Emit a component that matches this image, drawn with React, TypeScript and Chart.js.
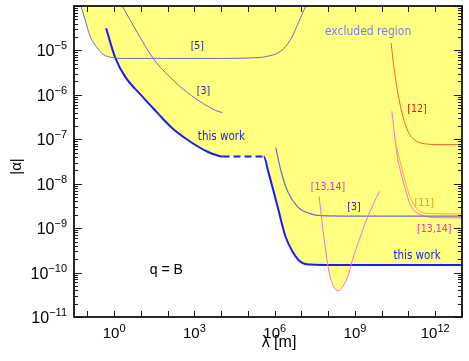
import React, { useEffect, useRef } from 'react';
import { Chart, registerables } from 'chart.js';

Chart.register(...registerables);

// ---- axis ranges (log10 exponents) ----
const X_MIN_EXP = -1.5;
const X_MAX_EXP = 13;
const Y_MIN_EXP = -11;
const Y_MAX_EXP = -4;
const xLabelExps = [0, 3, 6, 9, 12];
const yLabelExps = [-11, -10, -9, -8, -7, -6, -5];

// ---- curves: log10(λ [m]) and log10(|α|) ----
const ref5LogLambda = [-1.24, -1.09, -0.9, -0.65, -0.41, -0.08, 0.23, 2.0, 4.0, 5.1, 5.74, 6.22, 6.6, 6.86, 7.16];
const ref5LogAlpha = [-4.0, -4.3, -4.68, -4.93, -5.09, -5.16, -5.18, -5.18, -5.18, -5.17, -5.13, -5.02, -4.75, -4.41, -4.0];

const thisWorkLogLambda = [-0.3, 0.04, 0.41, 0.98, 1.61, 2.1, 2.74, 3.49, 3.9, 4.05, 5.59, 5.77, 6.11, 6.41, 6.67, 6.97, 7.35, 8.1, 13.0];
const thisWorkLogAlpha = [-4.5, -5.16, -5.59, -5.99, -6.4, -6.71, -7.01, -7.28, -7.37, -7.39, -7.39, -7.75, -8.52, -9.2, -9.53, -9.76, -9.82, -9.83, -9.83];
const thisWorkDashedSegment = 9; // segment 9 -> 10 is dashed

const ref3aLogLambda = [0.3, 0.86, 1.46, 2.1, 2.74, 3.34, 3.79, 4.05];
const ref3aLogAlpha = [-4.0, -4.59, -5.18, -5.61, -5.95, -6.2, -6.35, -6.4];

const ref3bLogLambda = [6.04, 6.22, 6.49, 6.86, 7.35, 7.72, 9.0, 13.0];
const ref3bLogAlpha = [-7.19, -7.68, -8.18, -8.52, -8.68, -8.72, -8.73, -8.73];

const ref1314aLogLambda = [7.66, 7.85, 8.04, 8.21, 8.36, 8.54, 8.73, 8.91, 9.16, 9.48, 9.91];
const ref1314aLogAlpha = [-8.29, -9.26, -10.01, -10.32, -10.41, -10.32, -10.09, -9.71, -9.26, -8.74, -8.17];

const ref12LogLambda = [10.35, 10.45, 10.6, 10.79, 10.98, 11.22, 11.6, 12.22, 13.0];
const ref12LogAlpha = [-4.83, -5.35, -5.95, -6.48, -6.82, -7.01, -7.1, -7.12, -7.12];

const ref1314bLogLambda = [10.38, 10.5, 10.6, 10.66, 10.85, 11.1, 11.47, 11.97, 13.0];
const ref1314bLogAlpha = [-6.37, -7.01, -7.46, -7.61, -8.06, -8.51, -8.7, -8.76, -8.77];

const ref11LogLambda = [10.5, 10.57, 10.72, 10.91, 11.1, 11.36, 11.74, 13.0];
const ref11LogAlpha = [-7.01, -7.23, -7.57, -8.02, -8.36, -8.59, -8.67, -8.68];

// ---- text annotations (log10 λ, log10 α) ----
const annoTexts = ['[5]', '[3]', 'this work', 'excluded region', '[12]', '[13,14]', '[3]', '[11]', '[13,14]', 'this work', 'q = B'];
const annoLogLambda = [3.11, 3.34, 4.01, 9.49, 11.32, 7.99, 8.96, 11.59, 11.96, 11.32, 1.95];
const annoLogAlpha = [-4.91, -5.92, -6.94, -4.59, -6.33, -8.09, -8.52, -8.43, -9.02, -9.62, -9.94];
const annoColors = ['#1c1ca8', '#1c1ca8', '#1a1af0', '#7b7bee', '#ee1111', '#ff22cc', '#1c1ca8', '#ff9922', '#ff22cc', '#1a1af0', '#000000'];

const YELLOW = '#ffff80';
const SLATE = '#6c6cc4';
const BLUE = '#1a1aff';
const PINK = '#ff6ad0';

const toPts = (lx: number[], ly: number[]) => lx.map((v, i) => ({ x: 10 ** v, y: 10 ** ly[i] }));

const NARROW = '"Liberation Sans Narrow", "Liberation Sans", Arial, sans-serif';
const SANS = '"Liberation Sans", Arial, sans-serif';
const ANNO_FONT = '"DejaVu Sans Condensed", "DejaVu Sans", sans-serif';

const expText = (e: number) => (e < 0 ? '\u2212' + Math.abs(e) : String(e));

const framePlugin = {
  id: 'frameTicks',
  afterDraw(chart: any) {
    const { ctx, chartArea: a, scales } = chart;
    const xs = scales.x;
    const ys = scales.y;
    ctx.save();
    ctx.strokeStyle = '#1a1a1a';
    ctx.lineWidth = 1;
    ctx.beginPath();
    for (let e = Y_MIN_EXP; e <= Y_MAX_EXP; e++) {
      for (let k = 1; k <= 9; k++) {
        const v = k * 10 ** e;
        if (v > 10 ** Y_MAX_EXP * 1.0001) break;
        const py = Math.round(ys.getPixelForValue(v)) + 0.5;
        const len = k === 1 ? 8 : 4;
        ctx.moveTo(a.left, py);
        ctx.lineTo(a.left + len, py);
        ctx.moveTo(a.right, py);
        ctx.lineTo(a.right - len, py);
      }
    }
    for (let e = Math.ceil(X_MIN_EXP); e <= X_MAX_EXP; e++) {
      const px = Math.round(xs.getPixelForValue(10 ** e)) + 0.5;
      ctx.moveTo(px, a.bottom);
      ctx.lineTo(px, a.bottom - 6);
      ctx.moveTo(px, a.top);
      ctx.lineTo(px, a.top + 6);
    }
    ctx.stroke();
    ctx.lineWidth = 1.8;
    ctx.strokeStyle = '#111';
    ctx.strokeRect(a.left, a.top, a.right - a.left, a.bottom - a.top);

    // tick labels: 10 with superscript exponent, positioned by the scales
    ctx.fillStyle = '#000';
    ctx.textBaseline = 'alphabetic';
    ys.ticks.forEach((t: any) => {
      const e = Math.round(Math.log10(t.value));
      const py = ys.getPixelForValue(t.value);
      ctx.font = `11px ${SANS}`;
      const ew = ctx.measureText(expText(e)).width;
      ctx.textAlign = 'right';
      ctx.fillText(expText(e), a.left - 7, py - 1);
      ctx.font = `16px ${NARROW}`;
      ctx.fillText('10', a.left - 7 - ew, py + 6);
    });
    xs.ticks.forEach((t: any) => {
      const e = Math.round(Math.log10(t.value));
      const px = xs.getPixelForValue(t.value);
      ctx.font = `15px ${SANS}`;
      const bw = ctx.measureText('10').width;
      ctx.font = `11px ${SANS}`;
      const ew = ctx.measureText(expText(e)).width;
      const x0 = px - (bw + ew) / 2;
      ctx.textAlign = 'left';
      ctx.font = `15px ${SANS}`;
      ctx.fillText('10', x0, a.bottom + 21);
      ctx.font = `11px ${SANS}`;
      ctx.fillText(expText(e), x0 + bw, a.bottom + 15);
    });

    // annotations
    ctx.textAlign = 'center';
    ctx.textBaseline = 'middle';
    annoTexts.forEach((t, i) => {
      const px = xs.getPixelForValue(10 ** annoLogLambda[i]);
      const py = ys.getPixelForValue(10 ** annoLogAlpha[i]);
      if (t === 'q = B') ctx.font = `14px ${SANS}`;
      else if (t === 'excluded region') ctx.font = `12px ${ANNO_FONT}`;
      else if (t === 'this work') ctx.font = `11.5px ${ANNO_FONT}`;
      else ctx.font = `10.5px ${ANNO_FONT}`;
      ctx.fillStyle = annoColors[i];
      ctx.fillText(t, px, py);
    });

    // axis titles
    ctx.fillStyle = '#000';
    ctx.font = `16px ${SANS}`;
    ctx.fillText('λ [m]', (a.left + a.right) / 2 + 11, 343);
    ctx.save();
    ctx.translate(17, (a.top + a.bottom) / 2 + 5);
    ctx.rotate(-Math.PI / 2);
    ctx.font = `15px ${SANS}`;
    ctx.fillText('|α|', 0, 0);
    ctx.restore();
    ctx.restore();
  },
};

function line(data: any, color: string, width: number, extra: any = {}) {
  return {
    data,
    showLine: true,
    borderColor: color,
    borderWidth: width,
    pointRadius: 0,
    cubicInterpolationMode: 'monotone',
    fill: false,
    ...extra,
  };
}

export default function App() {
  const ref = useRef<HTMLCanvasElement>(null);
  useEffect(() => {
    if (!ref.current) return;
    const thisWork = toPts(thisWorkLogLambda, thisWorkLogAlpha);
    const chart = new Chart(ref.current, {
      type: 'scatter',
      data: {
        datasets: [
          line(thisWork, 'rgba(0,0,0,0)', 0, { fill: 'end', backgroundColor: YELLOW, label: 'excluded' }),
          line(toPts(ref5LogLambda, ref5LogAlpha), SLATE, 1, { fill: 'end', backgroundColor: YELLOW, label: '[5]' }),
          line(toPts(ref1314aLogLambda, ref1314aLogAlpha), PINK, 1, { fill: 'end', backgroundColor: YELLOW, label: '[13,14]' }),
          line(toPts(ref3aLogLambda, ref3aLogAlpha), SLATE, 1, { label: '[3]' }),
          line(toPts(ref3bLogLambda, ref3bLogAlpha), SLATE, 1.2, { label: '[3]' }),
          line(toPts(ref12LogLambda, ref12LogAlpha), '#ff5a30', 1, { label: '[12]' }),
          line(toPts(ref11LogLambda, ref11LogAlpha), '#ffaa40', 1, { label: '[11]' }),
          line(toPts(ref1314bLogLambda, ref1314bLogAlpha), PINK, 1, { label: '[13,14]' }),
          line(thisWork, BLUE, 2, {
            label: 'this work',
            segment: {
              borderDash: (c: any) => (c.p0DataIndex === thisWorkDashedSegment ? [7, 4] : undefined),
            },
          }),
        ],
      },
      options: {
        animation: false,
        responsive: false,
        layout: { padding: { top: 6, right: 7, left: 0, bottom: 0 } },
        plugins: {
          legend: { display: false },
          tooltip: { enabled: false },
          filler: { drawTime: 'beforeDatasetsDraw' },
        },
        scales: {
          x: {
            type: 'logarithmic',
            min: 10 ** X_MIN_EXP,
            max: 10 ** X_MAX_EXP,
            grid: { display: false, drawTicks: false },
            border: { display: false },
            afterBuildTicks: (s: any) => {
              s.ticks = xLabelExps.map((e) => ({ value: 10 ** e }));
            },
            afterFit: (s: any) => {
              s.height = 44;
            },
            ticks: { display: false, autoSkip: false },
          },
          y: {
            type: 'logarithmic',
            min: 10 ** Y_MIN_EXP,
            max: 10 ** Y_MAX_EXP,
            grid: { display: false, drawTicks: false },
            border: { display: false },
            afterBuildTicks: (s: any) => {
              s.ticks = yLabelExps.map((e) => ({ value: 10 ** e }));
            },
            afterFit: (s: any) => {
              s.width = 74;
            },
            ticks: { display: false, autoSkip: false },
          },
        },
      } as any,
      plugins: [framePlugin],
    });
    return () => chart.destroy();
  }, []);
  return (
    <div style={{ position: 'fixed', left: 0, top: 0, width: 469, height: 361, background: '#fff' }}>
      <canvas ref={ref} width={469} height={361} />
    </div>
  );
}
